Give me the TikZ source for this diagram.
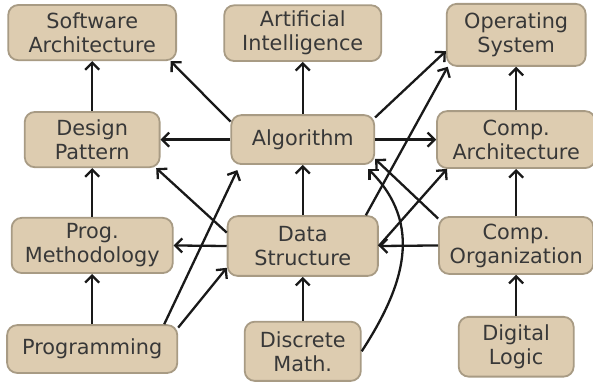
\documentclass[tikz,border=0pt]{standalone}
\usepackage{fontspec}
\setmainfont{DejaVu Sans}
\usepackage{xcolor}
\usetikzlibrary{arrows.meta}

\definecolor{boxfill}{HTML}{DDCCB0}
\definecolor{boxline}{HTML}{A89B84}
\definecolor{boxtext}{HTML}{383838}

\begin{document}
\begin{tikzpicture}[
  box/.style={rectangle, rounded corners=5pt, draw=boxline, line width=0.9pt,
              fill=boxfill, text=boxtext, align=center, inner sep=0pt,
              font=\fontsize{10.4}{12}\selectfont},
  dep/.style={-{Straight Barb[length=3.5pt,width=7pt]}, line width=1.15pt, black!90}]

\useasboundingbox (0,0) rectangle (10.42,6.713);

% ======================================================================
% COURSES  (4 rows x 3 columns)
% ======================================================================
\node[box, minimum width=2.95cm, minimum height=0.97cm] (sa)   at (1.62,6.14) {Software\\Architecture};
\node[box, minimum width=2.76cm, minimum height=0.98cm] (ai)   at (5.32,6.13) {Artificial\\Intelligence};
\node[box, minimum width=2.44cm, minimum height=1.09cm] (os)   at (9.07,6.10) {Operating\\System};

\node[box, minimum width=2.37cm, minimum height=0.97cm] (dp)   at (1.62,4.26) {Design\\Pattern};
\node[box, minimum width=2.51cm, minimum height=0.86cm] (alg)  at (5.32,4.26) {Algorithm};
\node[box, minimum width=2.78cm, minimum height=1.00cm] (ca)   at (9.07,4.26) {Comp.\\Architecture};

\node[box, minimum width=2.83cm, minimum height=0.97cm] (pm)   at (1.62,2.40) {Prog.\\Methodology};
\node[box, minimum width=2.64cm, minimum height=1.05cm] (ds)   at (5.32,2.39) {Data\\Structure};
\node[box, minimum width=2.71cm, minimum height=1.00cm] (co)   at (9.07,2.40) {Comp.\\Organization};

\node[box, minimum width=2.99cm, minimum height=0.84cm] (prog) at (1.62,0.58) {Programming};
\node[box, minimum width=2.04cm, minimum height=1.04cm] (dm)   at (5.32,0.54) {Discrete\\Math.};
\node[box, minimum width=2.02cm, minimum height=1.05cm] (dl)   at (9.07,0.62) {Digital\\Logic};

% ======================================================================
% PREREQUISITES
% ======================================================================
% straight up the columns
\draw[dep] (dp.north) -- (sa.south);
\draw[dep] (alg.north) -- (ai.south);
\draw[dep] (ca.north) -- (os.south);
\draw[dep] (pm.north) -- (dp.south);
\draw[dep] (ds.north) -- (alg.south);
\draw[dep] (co.north) -- (ca.south);
\draw[dep] (prog.north) -- (pm.south);
\draw[dep] (dm.north) -- (ds.south);
\draw[dep] (dl.north) -- (co.south);

% along the rows
\draw[dep] (alg.west) -- (dp.east);
\draw[dep] (alg.east) -- (ca.west);
\draw[dep] (ds.west) -- (pm.east);
\draw[dep] (co.west) -- (ds.east);

% diagonals
\draw[dep] (alg.166) -- (sa.-20);
\draw[dep] (alg.17) -- (os.193);
\draw[dep] (ds.170) -- (dp.-24);
\draw[dep] (ds.26) -- (os.205);
\draw[dep] (co.161) -- (alg.-15);
\draw[dep] (ds.east) -- (ca.203);
\draw[dep] (prog.19) -- ([xshift=0.12cm,yshift=-0.09cm]alg.south west);
\draw[dep] (prog.14) -- (ds.196);

% discrete math bends round to algorithm
\draw[dep] (dm.east) to[out=57, in=-45, looseness=1.1]
  ([xshift=-0.12cm,yshift=-0.07cm]alg.south east);

\end{tikzpicture}
\end{document}
